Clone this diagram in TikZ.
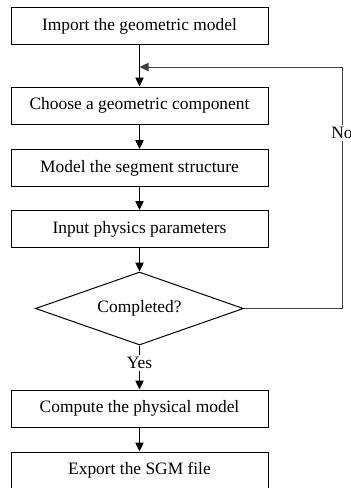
\documentclass[tikz,border=0pt]{standalone}
\usepackage{fontspec}
\setmainfont{Liberation Serif}
\usetikzlibrary{shapes.geometric,arrows.meta}

\begin{document}
\begin{tikzpicture}[x=0.5pt,y=-0.5pt,
  procbox/.style={draw, line width=0.5pt, minimum width=128.5pt, minimum height=18.5pt, inner sep=0pt, font=\fontsize{8.7}{10}\selectfont},
  decbox/.style={draw, diamond, aspect=2.85, line width=0.5pt, minimum width=104pt, minimum height=36.5pt, inner sep=0pt, font=\fontsize{8.7}{10}\selectfont},
  lbl/.style={fill=white, inner sep=1pt, font=\fontsize{8.7}{10}\selectfont},
  flow/.style={line width=0.5pt, -{Triangle[length=4.5pt,width=4.2pt]}}]
\useasboundingbox (0,0) rectangle (351,488);

% Process boxes
\node[procbox] (import) at (139.5,26) {Import the geometric model};
\node[procbox] (choose) at (139.5,105.5) {Choose a geometric component};
\node[procbox] (segment) at (139.5,168) {Model the segment structure};
\node[procbox] (params) at (139.5,229) {Input physics parameters};
% Decision
\node[decbox] (check) at (139.5,308.5) {Completed?};
\node[procbox] (compute) at (139.5,408.5) {Compute the physical model};
\node[procbox] (export) at (139.5,470.5) {Export the SGM file};

% Straight Lines
\draw[flow] (import) -- (choose);
\draw[flow] (choose) -- (segment);
\draw[flow] (segment) -- (params);
\draw[flow] (params) -- (check);
\draw[flow] (check) -- (compute);
\draw[flow] (compute) -- (export);

% Loop back
\coordinate (loopR) at (342,67);
\draw[flow, black!75] (check.east) -| (loopR) -- (import.south |- loopR);

% Text Node
\node[lbl] (yes) at (139.5,363) {Yes};
\node[lbl] (no) at (342,133) {No};

\end{tikzpicture}
\end{document}
